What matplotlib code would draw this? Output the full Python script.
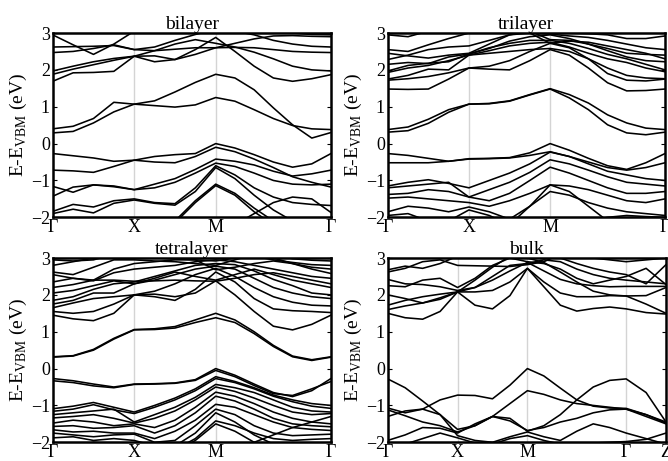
import numpy as np
import matplotlib
matplotlib.use("Agg")
from matplotlib import pyplot as plt

# -----------------------------------------------------------------------------
# ------------ BAND DATA (eV, relative to the VBM)
# -----------------------------------------------------------------------------
# square-lattice path G-X-M-G: 4 + 4 + 6 steps -> 15 energies per band
# bulk path G-X-M-G-Z: 4 + 4 + 6 + 2 steps -> 17 energies per band

square_labels = ["Γ", "X", "M", "Γ"]
bulk_labels = ["Γ", "X", "M", "Γ", "Z"]

bilayer_bands = [
    [0.29, 0.33, 0.56, 0.86, 1.07, 1.03, 0.99, 1.05, 1.25, 1.15, 0.92, 0.68, 0.49, 0.40, 0.38],
    [0.40, 0.47, 0.68, 1.12, 1.07, 1.16, 1.40, 1.66, 1.88, 1.78, 1.46, 0.97, 0.51, 0.15, 0.30],
    [1.69, 1.92, 1.93, 1.96, 2.37, 2.22, 2.28, 2.55, 2.88, 2.50, 2.10, 1.78, 1.69, 1.76, 1.87],
    [1.88, 2.02, 2.14, 2.26, 2.37, 2.38, 2.28, 2.42, 2.60, 2.61, 2.60, 2.55, 2.50, 2.48, 2.47],
    [1.97, 2.10, 2.22, 2.31, 2.37, 2.52, 2.70, 2.82, 2.72, 2.62, 2.48, 2.30, 2.10, 2.00, 1.97],
    [2.62, 2.63, 2.64, 2.66, 2.55, 2.52, 2.56, 2.60, 2.60, 2.72, 2.84, 2.92, 2.93, 2.91, 2.90],
    [2.47, 2.50, 2.58, 2.68, 2.55, 2.62, 2.80, 2.96, 3.10, 3.05, 2.95, 2.80, 2.70, 2.64, 2.62],
    [2.95, 2.68, 2.42, 2.70, 3.05, 3.20, 3.20, 3.20, 3.20, 3.20, 3.20, 3.10, 3.00, 2.96, 2.95],
    [-0.27, -0.33, -0.39, -0.48, -0.45, -0.35, -0.30, -0.27, 0.00, -0.12, -0.30, -0.50, -0.64, -0.55, -0.27],
    [-0.72, -0.74, -0.78, -0.62, -0.45, -0.50, -0.52, -0.35, -0.10, -0.22, -0.42, -0.65, -0.90, -1.05, -1.18],
    [-1.16, -1.32, -1.12, -1.15, -1.25, -1.10, -0.95, -0.70, -0.42, -0.48, -0.58, -0.75, -0.88, -0.82, -0.72],
    [-1.43, -1.18, -1.12, -1.17, -1.25, -1.20, -1.05, -0.80, -0.53, -0.62, -0.80, -1.00, -1.10, -1.12, -1.10],
    [-1.84, -1.65, -1.72, -1.55, -1.50, -1.60, -1.63, -1.20, -0.60, -0.85, -1.20, -1.45, -1.60, -1.65, -1.68],
    [-1.90, -1.78, -1.88, -1.62, -1.53, -1.62, -1.67, -1.30, -0.65, -0.95, -1.40, -1.80, -2.10, -2.20, -2.20],
    [-2.30, -2.30, -2.30, -2.30, -2.30, -2.30, -2.10, -1.55, -1.10, -1.35, -1.75, -2.10, -2.30, -2.30, -2.30],
    [-2.30, -2.30, -2.30, -2.30, -2.30, -2.30, -2.15, -1.60, -1.14, -1.40, -1.85, -2.20, -2.30, -2.30, -2.30],
    [-2.30, -2.30, -2.30, -2.30, -2.30, -2.30, -2.30, -2.30, -2.30, -2.20, -1.90, -1.60, -1.45, -1.50, -1.87],
]

trilayer_bands = [
    [0.31, 0.35, 0.55, 0.85, 1.07, 1.08, 1.15, 1.32, 1.48, 1.24, 0.92, 0.51, 0.29, 0.24, 0.31],
    [0.38, 0.45, 0.66, 0.92, 1.07, 1.09, 1.16, 1.33, 1.49, 1.33, 1.10, 0.78, 0.56, 0.42, 0.38],
    [1.48, 1.47, 1.48, 1.75, 2.05, 2.02, 2.00, 2.25, 2.55, 2.40, 2.05, 1.65, 1.43, 1.44, 1.48],
    [1.72, 1.76, 1.82, 1.92, 2.05, 2.10, 2.25, 2.50, 2.72, 2.60, 2.30, 1.90, 1.72, 1.70, 1.75],
    [1.75, 1.85, 2.02, 2.00, 2.40, 2.45, 2.50, 2.55, 2.58, 2.50, 2.30, 2.05, 1.85, 1.78, 1.76],
    [1.93, 2.05, 2.12, 2.25, 2.40, 2.52, 2.65, 2.72, 2.75, 2.62, 2.45, 2.30, 2.20, 2.05, 1.95],
    [1.97, 2.12, 2.18, 2.22, 2.43, 2.60, 2.72, 2.80, 2.80, 2.72, 2.58, 2.42, 2.30, 2.15, 2.00],
    [2.15, 2.20, 2.17, 2.35, 2.43, 2.58, 2.78, 2.90, 2.95, 2.85, 2.70, 2.52, 2.35, 2.25, 2.22],
    [2.45, 2.38, 2.32, 2.40, 2.45, 2.70, 2.95, 3.05, 2.82, 2.80, 2.70, 2.58, 2.45, 2.42, 2.40],
    [2.55, 2.50, 2.68, 2.85, 3.00, 3.10, 3.10, 3.00, 2.97, 2.92, 2.88, 2.80, 2.70, 2.60, 2.55],
    [2.28, 2.40, 2.55, 2.62, 2.65, 2.80, 2.95, 3.00, 2.72, 2.78, 2.75, 2.65, 2.55, 2.45, 2.30],
    [2.95, 2.90, 3.05, 3.20, 3.20, 3.20, 3.20, 3.10, 3.00, 3.00, 2.98, 2.95, 2.85, 2.85, 2.92],
    [-0.27, -0.32, -0.40, -0.48, -0.41, -0.40, -0.38, -0.25, 0.00, -0.18, -0.40, -0.60, -0.70, -0.52, -0.27],
    [-0.52, -0.52, -0.52, -0.48, -0.42, -0.41, -0.39, -0.32, -0.22, -0.35, -0.50, -0.65, -0.72, -0.65, -0.52],
    [-1.15, -1.05, -0.98, -1.08, -1.20, -1.00, -0.80, -0.55, -0.23, -0.35, -0.55, -0.75, -0.85, -0.95, -1.00],
    [-1.20, -1.15, -1.10, -1.05, -1.45, -1.25, -1.05, -0.78, -0.44, -0.55, -0.72, -0.90, -1.05, -1.10, -1.15],
    [-1.38, -1.35, -1.25, -1.30, -1.45, -1.55, -1.35, -1.00, -0.64, -0.80, -1.00, -1.20, -1.35, -1.35, -1.30],
    [-1.48, -1.45, -1.50, -1.55, -1.60, -1.70, -1.55, -1.35, -1.12, -1.15, -1.25, -1.40, -1.55, -1.60, -1.50],
    [-1.85, -1.70, -1.75, -1.85, -1.72, -1.85, -2.05, -1.70, -1.30, -1.40, -1.60, -1.75, -1.85, -1.90, -1.95],
    [-1.95, -1.90, -2.10, -2.10, -1.80, -1.95, -2.20, -2.10, -2.20, -2.20, -2.10, -2.00, -1.95, -1.98, -2.00],
    [-2.30, -2.30, -2.30, -2.30, -2.30, -2.30, -2.20, -1.70, -1.12, -1.30, -1.70, -2.10, -2.30, -2.30, -2.30],
]

tetralayer_bands = [
    [0.31, 0.34, 0.50, 0.80, 1.05, 1.06, 1.10, 1.25, 1.38, 1.25, 0.95, 0.60, 0.32, 0.22, 0.31],
    [0.32, 0.35, 0.52, 0.82, 1.06, 1.08, 1.14, 1.32, 1.50, 1.32, 1.00, 0.63, 0.34, 0.24, 0.32],
    [1.45, 1.35, 1.30, 1.50, 2.00, 2.02, 1.95, 2.05, 2.38, 2.00, 1.55, 1.15, 1.05, 1.20, 1.45],
    [1.55, 1.50, 1.55, 1.75, 2.00, 1.95, 1.85, 2.15, 2.62, 2.35, 1.90, 1.62, 1.57, 1.55, 1.52],
    [1.65, 1.78, 1.90, 1.95, 2.00, 2.10, 2.30, 2.55, 2.72, 2.50, 2.20, 1.95, 1.80, 1.72, 1.70],
    [1.75, 1.85, 2.05, 2.05, 2.30, 2.40, 2.55, 2.70, 2.78, 2.70, 2.45, 2.20, 2.05, 1.95, 1.90],
    [1.85, 1.95, 2.15, 2.30, 2.35, 2.50, 2.65, 2.80, 2.85, 2.82, 2.65, 2.42, 2.25, 2.05, 2.00],
    [2.05, 2.12, 2.25, 2.38, 2.30, 2.45, 2.62, 2.50, 2.40, 2.55, 2.70, 2.55, 2.40, 2.30, 2.20],
    [2.20, 2.28, 2.40, 2.40, 2.37, 2.38, 2.40, 2.38, 2.37, 2.45, 2.55, 2.60, 2.50, 2.40, 2.30],
    [2.35, 2.45, 2.38, 2.60, 2.70, 2.75, 2.80, 2.90, 2.95, 2.90, 2.80, 2.70, 2.60, 2.50, 2.45],
    [2.55, 2.45, 2.40, 2.70, 2.85, 2.90, 2.95, 2.95, 2.68, 2.75, 2.85, 2.92, 2.85, 2.70, 2.58],
    [2.62, 2.55, 2.75, 2.95, 2.95, 2.92, 2.90, 2.85, 2.80, 2.95, 3.10, 3.00, 2.85, 2.75, 2.70],
    [2.80, 2.90, 3.00, 3.10, 3.10, 3.00, 2.98, 2.95, 2.92, 3.00, 3.05, 2.95, 2.88, 2.82, 2.80],
    [2.95, 2.92, 2.95, 3.10, 3.20, 3.20, 3.10, 3.00, 3.00, 3.10, 3.20, 3.10, 2.98, 2.94, 2.92],
    [-0.27, -0.33, -0.42, -0.50, -0.42, -0.41, -0.39, -0.30, 0.00, -0.18, -0.42, -0.65, -0.76, -0.60, -0.27],
    [-0.33, -0.38, -0.47, -0.52, -0.43, -0.42, -0.40, -0.32, -0.05, -0.22, -0.46, -0.68, -0.73, -0.55, -0.35],
    [-1.09, -1.02, -0.92, -1.05, -1.18, -1.00, -0.80, -0.55, -0.22, -0.35, -0.52, -0.72, -0.85, -0.95, -1.00],
    [-1.16, -1.10, -0.98, -1.12, -1.22, -1.05, -0.85, -0.60, -0.27, -0.38, -0.55, -0.75, -0.90, -1.02, -1.08],
    [-1.25, -1.20, -1.15, -1.10, -1.45, -1.25, -1.05, -0.78, -0.43, -0.52, -0.65, -0.85, -1.05, -1.15, -1.18],
    [-1.34, -1.30, -1.25, -1.35, -1.48, -1.35, -1.15, -0.85, -0.50, -0.62, -0.80, -1.00, -1.18, -1.25, -1.22],
    [-1.48, -1.40, -1.45, -1.55, -1.50, -1.60, -1.40, -1.05, -0.64, -0.75, -0.95, -1.18, -1.35, -1.45, -1.50],
    [-1.57, -1.55, -1.62, -1.60, -1.55, -1.75, -1.55, -1.20, -0.75, -0.88, -1.10, -1.35, -1.50, -1.55, -1.58],
    [-1.66, -1.72, -1.70, -1.75, -1.75, -1.90, -1.70, -1.40, -0.97, -1.05, -1.25, -1.45, -1.60, -1.65, -1.68],
    [-1.75, -1.80, -1.85, -1.80, -1.78, -2.00, -1.95, -1.55, -1.10, -1.25, -1.55, -1.75, -1.82, -1.80, -1.78],
    [-1.88, -1.85, -1.95, -1.90, -1.95, -2.10, -2.10, -1.75, -1.20, -1.45, -1.80, -2.05, -2.20, -2.20, -2.00],
    [-2.20, -2.10, -2.00, -2.05, -2.20, -2.30, -2.20, -1.90, -1.42, -1.55, -1.75, -1.90, -1.95, -1.92, -1.90],
    [-2.30, -2.30, -2.30, -2.30, -2.30, -2.30, -2.25, -1.95, -1.50, -1.70, -2.00, -2.25, -2.30, -2.30, -2.30],
    [-2.30, -2.30, -2.30, -2.30, -2.30, -2.30, -2.30, -2.30, -2.30, -2.20, -2.00, -1.80, -1.60, -1.45, -1.30],
]

bulk_bands = [
    [1.50, 1.38, 1.34, 1.55, 2.08, 1.72, 1.62, 1.98, 2.72, 2.22, 1.72, 1.56, 1.63, 1.67, 1.62, 1.52, 1.48],
    [1.60, 1.70, 1.78, 1.92, 2.08, 2.40, 2.75, 3.05, 3.30, 3.20, 3.00, 2.85, 2.72, 2.62, 2.55, 2.30, 2.82],
    [1.72, 1.85, 1.95, 2.02, 2.08, 2.08, 2.12, 2.35, 2.72, 2.35, 2.05, 1.95, 1.95, 1.98, 1.97, 1.75, 1.50],
    [2.00, 1.90, 1.78, 1.88, 2.08, 2.20, 2.40, 2.65, 2.88, 2.65, 2.42, 2.30, 2.25, 2.22, 2.23, 2.23, 2.23],
    [2.25, 2.22, 2.40, 2.45, 2.20, 2.45, 2.80, 3.00, 2.90, 2.85, 2.70, 2.45, 2.30, 2.40, 2.50, 2.72, 2.28],
    [2.42, 2.30, 2.28, 2.22, 2.12, 2.20, 2.50, 2.80, 2.85, 2.95, 2.90, 2.70, 2.55, 2.45, 2.40, 2.35, 2.30],
    [2.62, 2.72, 2.90, 2.95, 2.80, 2.79, 2.78, 2.77, 2.82, 2.90, 3.10, 3.10, 3.00, 2.95, 2.90, 2.95, 3.00],
    [2.68, 2.78, 2.72, 2.85, 3.05, 3.20, 3.20, 3.20, 3.00, 2.88, 2.62, 2.35, 2.10, 2.00, 1.97, 1.98, 2.20],
    [-1.07, -1.20, -1.10, -0.85, -0.72, -0.73, -0.82, -0.45, 0.00, -0.20, -0.53, -0.85, -1.02, -1.07, -1.08, -1.25, -1.48],
    [-0.28, -0.52, -0.88, -1.25, -1.65, -1.55, -1.30, -0.95, -0.60, -0.70, -0.85, -0.95, -1.00, -1.05, -1.10, -1.30, -1.50],
    [-1.12, -1.28, -1.45, -1.55, -1.72, -1.55, -1.30, -1.35, -1.70, -1.55, -1.25, -0.85, -0.50, -0.32, -0.28, -0.65, -1.45],
    [-1.30, -1.15, -1.10, -1.25, -1.82, -1.95, -2.00, -1.85, -1.72, -1.85, -1.95, -1.70, -1.50, -1.60, -1.75, -1.90, -2.05],
    [-1.95, -1.80, -1.60, -1.62, -1.75, -1.50, -1.30, -1.42, -1.68, -1.60, -1.45, -1.35, -1.20, -1.12, -1.10, -1.25, -1.45],
    [-2.10, -2.05, -1.90, -1.75, -1.88, -2.02, -2.05, -1.90, -1.82, -1.95, -2.05, -2.05, -2.02, -2.00, -1.98, -1.92, -1.75],
]

# -----------------------------------------------------------------------------
# ------------ FUNCTIONS
# -----------------------------------------------------------------------------

# Build the k-axis from segment lengths and number of steps per segment
def build_kpath(seg_lengths, seg_steps):
    k = [0.0]
    ticks = [0.0]
    for length, steps in zip(seg_lengths, seg_steps):
        start = k[-1]
        for i in range(1, steps + 1):
            k.append(start + length * i / steps)
        ticks.append(k[-1])
    return np.array(k), ticks


def draw_bands(ax, bands, kpath, ticks, labels, title):
    for xt in ticks[1:-1]:
        ax.axvline(xt, color="#d4d4d4", lw=1.0, zorder=0)
    for band in bands:
        ax.plot(kpath, band, color="black", lw=1.15, solid_joinstyle="round")
    ax.set_xlim(ticks[0], ticks[-1])
    ax.set_ylim(-2, 3)
    ax.set_xticks(ticks)
    ax.set_xticklabels(labels)
    ax.set_yticks([-2, -1, 0, 1, 2, 3])
    ax.tick_params(axis="x", length=0, pad=1, labelsize=13)
    ax.tick_params(axis="y", direction="in", length=3, width=0.8,
                   right=True, pad=2, labelsize=13)
    for sp in ax.spines.values():
        sp.set_linewidth(1.8)
    ax.set_ylabel(r"E-E$_\mathregular{VBM}$ (eV)", fontsize=14, labelpad=1)
    ax.set_title(title, fontsize=14, pad=1)


# -----------------------------------------------------------------------------
# ------------ MATPLOTLIB
# -----------------------------------------------------------------------------

plt.rcParams["font.family"] = ["Liberation Serif", "DejaVu Serif"]
plt.rcParams["mathtext.fontset"] = "custom"
plt.rcParams["mathtext.rm"] = "Liberation Serif"

r2 = np.sqrt(2.0)
k_sq, ticks_sq = build_kpath([1.0, 1.0, r2], [4, 4, 6])
k_bulk, ticks_bulk = build_kpath([1.0, 1.0, r2, 0.57], [4, 4, 6, 2])

fig = plt.figure(figsize=(6.68, 4.61), dpi=100)
ax1 = fig.add_axes([0.0789, 0.5286, 0.4166, 0.3998])
ax2 = fig.add_axes([0.5804, 0.5286, 0.4151, 0.3998])
ax3 = fig.add_axes([0.0789, 0.0406, 0.4166, 0.3997])
ax4 = fig.add_axes([0.5804, 0.0406, 0.4166, 0.3997])

draw_bands(ax1, bilayer_bands, k_sq, ticks_sq, square_labels, "bilayer")
draw_bands(ax2, trilayer_bands, k_sq, ticks_sq, square_labels, "trilayer")
draw_bands(ax3, tetralayer_bands, k_sq, ticks_sq, square_labels, "tetralayer")
draw_bands(ax4, bulk_bands, k_bulk, ticks_bulk, bulk_labels, "bulk")

fig.savefig("out.png", dpi=100)
